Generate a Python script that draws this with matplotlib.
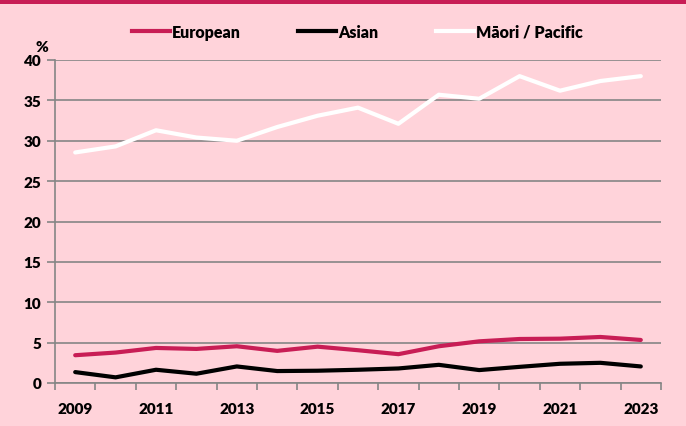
import matplotlib
matplotlib.use("Agg")
import matplotlib.pyplot as plt
from matplotlib.lines import Line2D
import matplotlib.patches as mpatches

years = list(range(2009, 2024))
european = [3.44, 3.77, 4.34, 4.22, 4.55, 3.98, 4.5, 4.06, 3.57, 4.55, 5.16, 5.45, 5.49, 5.7, 5.33]
asian = [1.35, 0.7, 1.64, 1.15, 2.05, 1.48, 1.52, 1.64, 1.8, 2.25, 1.6, 2.0, 2.38, 2.5, 2.05]
maori_pacific = [28.55, 29.3, 31.3, 30.4, 30.0, 31.7, 33.1, 34.1, 32.1, 35.7, 35.2, 38.0, 36.2, 37.4, 38.0]
series_names = ["European", "Asian", "M\u0101ori / Pacific"]
y_ticks = [0, 5, 10, 15, 20, 25, 30, 35, 40]

bg = "#FFD3DA"
crimson = "#C81D55"
colors = [crimson, "#000000", "#FFFFFF"]
W = 'heavy'

plt.rcParams['font.family'] = ['Lato', 'DejaVu Sans']

fig = plt.figure(figsize=(6.86, 4.27), dpi=100, facecolor=bg)
ax = fig.add_axes([55/686, 1-384/427, 606/686, 323/427])
ax.set_facecolor(bg)

# top band
fig.patches.append(mpatches.Rectangle((0, 1-5/427), 1, 5/427, transform=fig.transFigure,
                                      facecolor=crimson, edgecolor='none'))

x = list(range(len(years)))
for vals, c, name in zip([european, asian, maori_pacific], colors, series_names):
    ax.plot(x, vals, color=c, lw=3, solid_capstyle='round', label=name, zorder=3)

ax.set_xlim(-0.5, len(years) - 0.5)
ax.set_ylim(0, 40)
ax.set_yticks(y_ticks)
ax.set_yticklabels([str(v) for v in y_ticks], fontsize=11, fontweight=W)
ax.yaxis.grid(True, color='#858585', lw=1.2)
ax.set_axisbelow(True)

ax.set_xticks(x[::2])
ax.set_xticklabels([str(y) for y in years[::2]], fontsize=11, fontweight=W)
ax.set_xticks([i - 0.5 for i in range(len(years) + 1)], minor=True)
ax.tick_params(axis='x', which='major', length=0, pad=14)
ax.tick_params(axis='x', which='minor', length=5, color='#858585', width=1.2)
ax.tick_params(axis='y', length=6, color='#858585', width=1.2, pad=4)

for s in ['top', 'right']:
    ax.spines[s].set_visible(False)
for s in ['left', 'bottom']:
    ax.spines[s].set_color('#858585')
    ax.spines[s].set_linewidth(1.2)

fig.text(42/686, 1-47/427, "%", fontsize=11, fontweight=W, ha='center', va='center')

handles = [Line2D([0], [0], color=c, lw=3) for c in colors]
leg = fig.legend(handles, series_names, loc='center', bbox_to_anchor=(357/686, 1-33/427),
                 ncol=3, frameon=False, handlelength=2.4, handletextpad=0.1, columnspacing=3.6,
                 prop={'weight': W, 'size': 11.5})

fig.savefig("out.png", dpi=100, facecolor=bg)
